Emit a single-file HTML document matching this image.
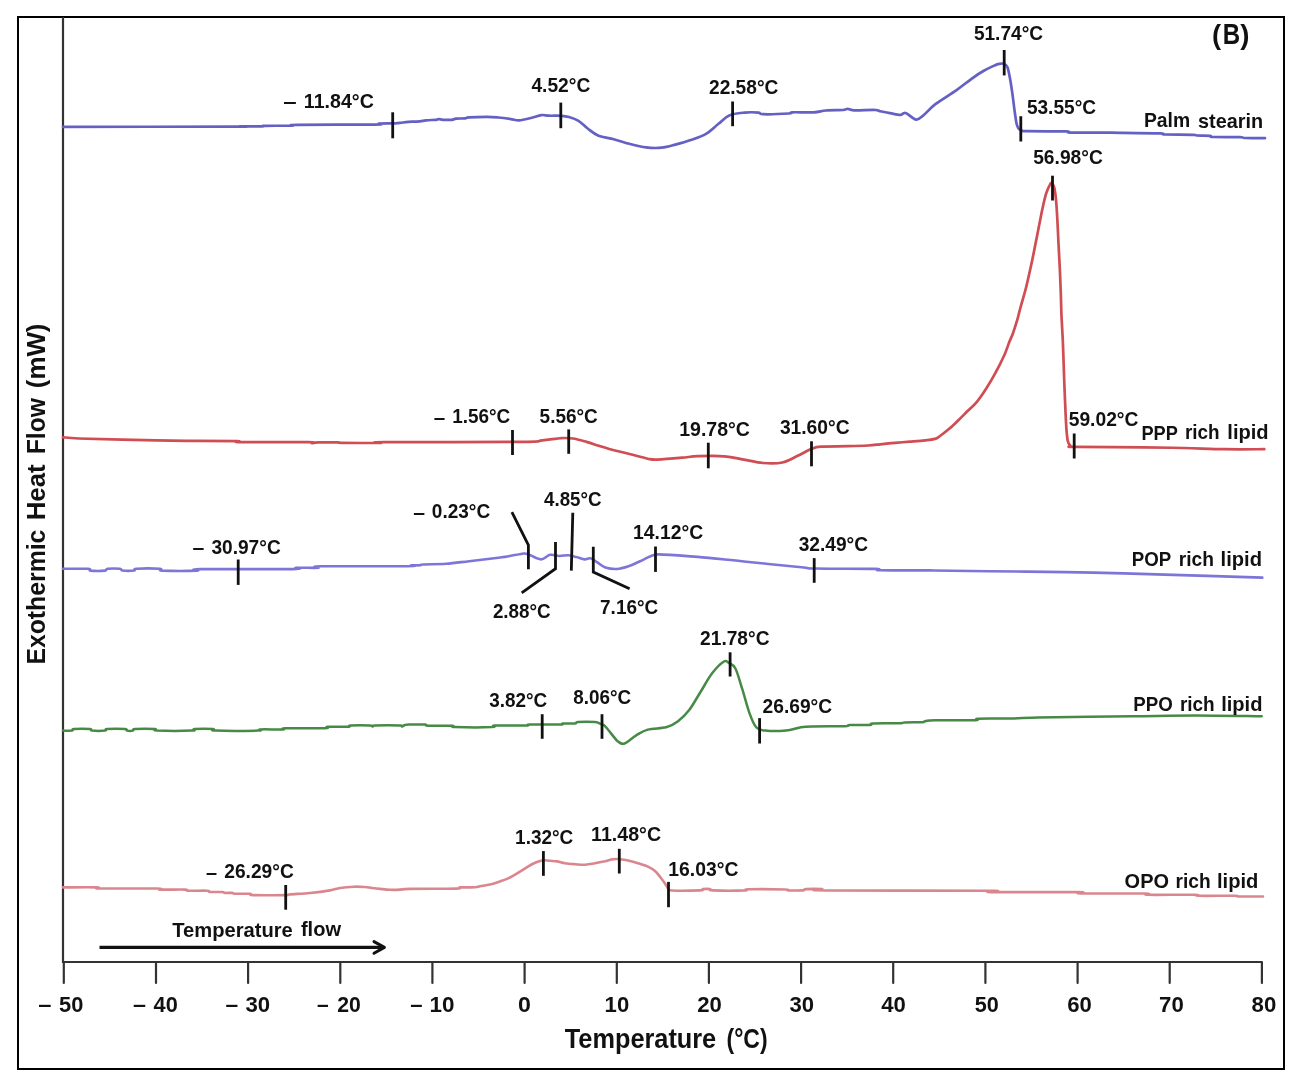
<!DOCTYPE html><html><head><meta charset="utf-8"><style>html,body{margin:0;padding:0;background:#fff;}svg{display:block;will-change:transform;}text{font-family:"Liberation Sans",sans-serif;font-weight:bold;fill:#111;}</style></head><body>
<svg width="1300" height="1085" viewBox="0 0 1300 1085">
<rect x="0" y="0" width="1300" height="1085" fill="#fff"/>
<rect x="18" y="17" width="1266" height="1052" fill="none" stroke="#000" stroke-width="2"/>
<path d="M63 17 L63 962 L1262 962" fill="none" stroke="#333" stroke-width="2.2"/>
<path d="M63.8 962 L63.8 983 M156.0 962 L156.0 983 M248.1 962 L248.1 983 M340.3 962 L340.3 983 M432.4 962 L432.4 983 M524.6 962 L524.6 983 M616.8 962 L616.8 983 M708.9 962 L708.9 983 M801.1 962 L801.1 983 M893.2 962 L893.2 983 M985.4 962 L985.4 983 M1077.6 962 L1077.6 983 M1169.7 962 L1169.7 983 M1261.9 962 L1261.9 983 " stroke="#333" stroke-width="2.2" stroke-linecap="round"/>
<path d="M63.0 126.8 C91.7 126.8 205.5 126.7 235.0 126.6 C264.5 126.5 235.5 126.3 240.0 126.3 C244.5 126.2 257.8 126.4 262.0 126.3 C266.2 126.2 260.0 125.9 265.0 125.8 C270.0 125.7 286.7 125.8 292.0 125.6 C297.3 125.4 283.2 125.0 297.0 124.8 C310.8 124.6 361.3 124.8 375.0 124.6 C388.7 124.4 376.0 123.8 379.0 123.6 C382.0 123.4 389.5 123.5 393.0 123.4 C396.5 123.3 396.8 123.1 400.0 122.8 C403.2 122.5 408.7 121.9 412.0 121.7 C415.3 121.5 417.7 121.6 420.0 121.4 C422.3 121.2 423.3 120.6 426.0 120.3 C428.7 120.0 433.8 120.0 436.0 119.8 C438.2 119.6 437.8 119.1 439.0 119.1 C440.2 119.1 440.8 119.7 443.0 119.8 C445.2 119.9 449.8 120.0 452.0 119.8 C454.2 119.6 453.8 118.8 456.0 118.6 C458.2 118.4 462.8 118.6 465.0 118.4 C467.2 118.2 465.3 117.7 469.0 117.4 C472.7 117.1 482.1 116.8 487.0 116.8 C491.9 116.8 494.5 117.1 498.5 117.5 C502.5 117.9 507.4 118.6 510.8 119.1 C514.2 119.6 515.9 120.6 519.2 120.4 C522.5 120.2 527.1 118.9 530.8 118.0 C534.5 117.1 538.5 115.5 541.5 115.1 C544.5 114.7 545.7 115.6 549.0 115.7 C552.3 115.8 558.2 115.6 561.5 115.8 C564.8 116.0 566.2 116.2 569.0 117.0 C571.8 117.8 575.4 118.9 578.5 120.8 C581.6 122.7 584.4 126.0 587.7 128.5 C591.0 131.0 594.1 133.9 598.5 135.7 C602.9 137.5 608.7 137.8 613.8 139.2 C618.9 140.5 623.8 142.4 629.2 143.8 C634.6 145.2 640.6 146.8 646.0 147.4 C651.4 148.1 656.6 148.2 661.5 147.7 C666.4 147.2 670.5 145.9 675.4 144.6 C680.3 143.3 685.7 141.8 690.8 140.0 C695.9 138.2 701.4 136.5 706.0 133.8 C710.6 131.1 714.6 126.9 718.5 123.8 C722.4 120.7 724.9 117.3 729.2 115.4 C733.6 113.5 739.7 113.1 744.6 112.6 C749.5 112.1 755.4 112.3 758.5 112.6 C761.6 112.9 757.9 114.0 763.0 114.2 C768.1 114.4 784.1 113.8 789.0 113.5 C793.9 113.2 788.2 112.5 792.3 112.3 C796.4 112.1 808.2 112.6 813.8 112.3 C819.4 112.0 821.1 110.9 826.0 110.5 C830.9 110.1 839.4 110.3 843.0 110.0 C846.6 109.7 845.9 108.8 847.7 108.8 C849.5 108.8 849.2 110.1 853.8 110.3 C858.4 110.5 871.0 109.8 875.4 110.0 C879.8 110.2 877.6 110.7 880.0 111.2 C882.4 111.7 886.7 112.5 890.0 113.1 C893.3 113.7 897.8 114.9 900.0 114.9 C902.2 115.0 902.4 113.7 903.5 113.4 C904.6 113.2 904.4 112.4 906.5 113.4 C908.6 114.4 913.3 119.3 916.2 119.6 C919.1 119.9 920.6 117.6 923.8 115.0 C927.0 112.4 930.0 108.3 935.4 104.2 C940.8 100.1 950.2 94.6 956.2 90.4 C962.2 86.2 966.9 82.1 971.5 78.8 C976.1 75.5 979.9 73.0 983.8 70.8 C987.6 68.6 992.0 66.6 994.6 65.4 C997.2 64.2 997.6 64.1 999.2 63.8 C1000.8 63.5 1002.6 63.2 1004.0 63.8 C1005.4 64.4 1006.6 65.4 1007.5 67.4 C1008.4 69.4 1008.8 72.2 1009.5 75.7 C1010.2 79.2 1011.0 84.1 1011.6 88.2 C1012.2 92.3 1012.8 96.5 1013.3 100.6 C1013.8 104.7 1014.3 109.1 1014.9 113.0 C1015.5 116.9 1016.0 121.2 1016.6 123.8 C1017.2 126.4 1017.9 127.7 1018.7 128.8 C1019.5 129.9 1020.3 129.9 1021.6 130.3 C1022.9 130.7 1019.1 131.0 1026.5 131.2 C1033.9 131.4 1058.8 131.2 1066.0 131.4 C1073.2 131.6 1064.3 132.4 1070.0 132.6 C1075.7 132.8 1091.7 132.6 1100.0 132.6 C1108.3 132.6 1110.0 132.7 1120.0 132.8 C1130.0 132.9 1152.5 133.1 1160.0 133.4 C1167.5 133.7 1159.5 134.3 1165.0 134.5 C1170.5 134.7 1187.7 134.6 1193.0 134.8 C1198.3 135.0 1194.2 135.3 1197.0 135.5 C1199.8 135.7 1207.3 135.6 1210.0 135.8 C1212.7 136.1 1208.0 136.8 1213.0 137.0 C1218.0 137.2 1234.7 137.0 1240.0 137.2 C1245.3 137.4 1240.8 137.8 1245.0 138.0 C1249.2 138.2 1261.7 138.2 1265.0 138.2" fill="none" stroke="#6460c4" stroke-width="2.7" stroke-linejoin="round" stroke-linecap="round"/>
<path d="M63.0 437.3 C65.6 437.5 68.7 438.1 78.5 438.5 C88.3 438.9 103.9 439.3 122.0 439.7 C140.1 440.1 167.8 440.6 187.0 440.8 C206.2 441.1 228.2 441.0 237.0 441.2 C245.8 441.4 228.2 442.0 240.0 442.2 C251.8 442.4 296.0 442.0 308.0 442.2 C320.0 442.4 310.3 443.1 312.0 443.1 C313.7 443.1 313.7 442.5 318.0 442.4 C322.3 442.3 334.0 442.3 338.0 442.4 C342.0 442.5 335.0 442.8 342.0 442.9 C349.0 443.0 373.0 443.0 380.0 442.9 C387.0 442.8 360.7 442.3 384.0 442.1 C407.3 441.9 493.6 442.2 520.0 441.9 C546.4 441.6 535.4 441.0 542.3 440.4 C549.2 439.8 556.4 438.4 561.5 438.1 C566.6 437.8 568.8 437.9 573.0 438.5 C577.2 439.1 582.3 440.7 586.5 441.9 C590.7 443.1 594.2 444.3 598.0 445.5 C601.8 446.7 604.1 447.6 609.2 449.0 C614.3 450.4 622.1 452.2 628.5 453.8 C634.9 455.4 642.9 457.7 647.7 458.7 C652.5 459.7 651.5 459.8 657.3 459.6 C663.1 459.4 675.6 458.3 682.3 457.7 C689.0 457.1 690.7 456.4 697.7 456.2 C704.8 456.0 716.9 455.7 724.6 456.3 C732.3 456.9 737.4 458.5 743.8 459.6 C750.2 460.7 756.6 462.5 763.0 463.0 C769.4 463.5 776.5 463.7 782.3 462.5 C788.1 461.3 792.9 458.1 797.7 455.8 C802.5 453.6 807.4 450.5 811.2 449.0 C815.1 447.5 814.7 447.1 820.8 446.6 C826.9 446.1 840.1 446.4 848.0 446.2 C855.9 446.0 862.7 445.8 868.0 445.5 C873.3 445.2 875.5 444.8 880.0 444.3 C884.5 443.9 890.0 443.2 895.0 442.8 C900.0 442.4 905.0 442.1 910.0 441.7 C915.0 441.3 920.8 440.9 925.0 440.4 C929.2 439.9 932.5 439.6 935.0 438.9 C937.5 438.2 937.6 437.7 940.0 436.0 C942.4 434.3 946.1 431.4 949.2 428.8 C952.3 426.2 955.3 423.2 958.4 420.2 C961.5 417.2 964.5 414.1 967.6 411.0 C970.7 407.9 973.8 405.5 976.9 401.8 C980.0 398.1 983.0 393.6 986.1 388.8 C989.2 384.0 992.2 378.9 995.3 373.2 C998.4 367.5 1002.2 359.8 1004.5 354.7 C1006.8 349.6 1007.7 346.1 1009.1 342.5 C1010.5 338.9 1011.7 336.9 1013.0 333.2 C1014.3 329.5 1015.9 324.4 1017.1 320.4 C1018.3 316.4 1018.5 315.0 1020.0 309.4 C1021.5 303.8 1024.2 294.9 1026.2 287.0 C1028.2 279.1 1030.0 270.4 1031.8 262.1 C1033.6 253.8 1035.1 245.5 1036.8 237.2 C1038.5 228.9 1040.2 219.6 1041.7 212.3 C1043.2 205.1 1044.8 198.2 1046.1 193.7 C1047.4 189.1 1048.9 186.8 1049.8 185.0 C1050.7 183.2 1051.0 182.7 1051.7 183.1 C1052.4 183.5 1053.5 184.6 1054.2 187.4 C1054.9 190.2 1055.5 194.7 1056.0 199.9 C1056.5 205.1 1056.9 211.3 1057.3 218.6 C1057.7 225.9 1058.1 235.2 1058.5 243.5 C1058.9 251.8 1059.4 260.0 1059.8 268.3 C1060.2 276.6 1060.5 285.6 1060.8 293.2 C1061.1 300.8 1061.1 305.7 1061.4 314.0 C1061.8 322.3 1062.5 333.3 1062.9 342.9 C1063.3 352.5 1063.6 361.9 1063.9 371.4 C1064.2 380.9 1064.6 390.5 1065.0 400.0 C1065.4 409.5 1065.9 421.7 1066.4 428.6 C1066.9 435.5 1067.2 438.5 1067.9 441.4 C1068.6 444.3 1069.5 445.1 1070.7 446.0 C1071.9 446.9 1062.9 446.7 1075.0 446.9 C1087.1 447.1 1125.2 447.1 1143.4 447.3 C1161.6 447.5 1170.5 447.7 1184.0 448.0 C1197.5 448.3 1211.2 449.0 1224.6 449.2 C1238.0 449.4 1257.7 449.2 1264.3 449.2" fill="none" stroke="#cf4d53" stroke-width="2.7" stroke-linejoin="round" stroke-linecap="round"/>
<path d="M63.0 568.8 C67.2 568.8 83.4 568.5 88.0 568.8 C92.6 569.1 87.7 570.3 90.5 570.6 C93.3 570.9 102.2 570.9 105.0 570.6 C107.8 570.3 105.0 569.1 107.5 568.8 C110.0 568.5 117.5 568.5 120.0 568.8 C122.5 569.1 120.2 570.2 122.5 570.5 C124.8 570.8 131.7 570.8 134.0 570.5 C136.3 570.2 132.2 569.1 136.5 568.8 C140.8 568.5 155.7 568.5 160.0 568.8 C164.3 569.1 156.3 570.3 162.5 570.6 C168.7 570.9 190.8 570.9 197.0 570.6 C203.2 570.4 184.0 569.4 200.0 569.1 C216.0 568.9 277.0 569.3 293.0 569.1 C309.0 568.9 291.8 568.0 296.0 567.8 C300.2 567.6 313.8 568.0 318.0 567.8 C322.2 567.5 306.0 566.6 321.0 566.3 C336.0 566.0 393.0 566.4 408.0 566.2 C423.0 566.1 409.0 565.5 411.0 565.4 C413.0 565.2 418.0 565.4 420.0 565.3 C422.0 565.1 418.6 564.8 423.0 564.5 C427.4 564.2 438.5 564.3 446.2 563.8 C453.9 563.2 461.9 562.0 469.2 561.2 C476.5 560.4 483.6 559.6 490.0 558.8 C496.4 558.0 501.9 557.4 507.3 556.5 C512.7 555.6 518.8 554.1 522.3 553.7 C525.8 553.3 525.0 553.2 528.1 554.2 C531.2 555.2 537.1 559.3 540.8 559.4 C544.4 559.5 546.9 555.4 550.0 554.8 C553.1 554.2 556.1 555.9 559.2 556.0 C562.3 556.1 565.6 555.0 568.5 555.2 C571.4 555.4 573.8 556.4 576.5 557.1 C579.2 557.8 582.3 559.2 584.6 559.4 C586.9 559.6 588.3 557.8 590.4 558.3 C592.5 558.8 594.8 560.8 597.3 562.3 C599.8 563.8 602.1 566.4 605.4 567.5 C608.7 568.6 613.0 569.2 616.9 569.0 C620.8 568.8 624.6 567.6 628.5 566.3 C632.4 565.0 635.8 563.1 640.0 561.2 C644.2 559.3 650.0 556.2 653.8 555.1 C657.6 554.0 655.7 554.3 663.0 554.6 C670.3 554.9 684.2 555.8 697.7 556.9 C711.2 558.0 726.5 559.8 743.8 561.5 C761.1 563.2 789.6 566.1 801.5 567.3 C813.4 568.5 803.1 568.2 815.4 568.5 C827.7 568.8 864.6 568.6 875.4 568.9 C886.2 569.2 870.9 570.0 880.0 570.3 C889.1 570.5 912.0 570.2 930.0 570.4 C948.0 570.5 965.6 570.9 988.2 571.2 C1010.8 571.5 1043.1 571.7 1065.7 572.1 C1088.3 572.5 1100.4 572.8 1123.9 573.4 C1147.5 574.0 1183.9 575.2 1207.0 575.9 C1230.1 576.6 1253.1 577.3 1262.3 577.6" fill="none" stroke="#7d75d8" stroke-width="2.6" stroke-linejoin="round" stroke-linecap="round"/>
<path d="M63.0 730.6 C64.5 730.6 70.2 730.9 72.0 730.6 C73.8 730.4 71.0 729.4 74.0 729.1 C77.0 728.9 87.0 728.9 90.0 729.1 C93.0 729.4 89.5 730.4 92.0 730.6 C94.5 730.9 102.5 730.9 105.0 730.6 C107.5 730.4 103.7 729.4 107.0 729.1 C110.3 728.9 121.7 728.9 125.0 729.1 C128.3 729.4 125.7 730.4 127.0 730.6 C128.3 730.9 131.7 730.9 133.0 730.6 C134.3 730.4 131.3 729.4 135.0 729.1 C138.7 728.9 151.3 728.9 155.0 729.1 C158.7 729.4 150.8 730.4 157.0 730.6 C163.2 730.9 185.8 730.9 192.0 730.6 C198.2 730.4 191.0 729.4 194.5 729.1 C198.0 728.9 209.5 728.9 213.0 729.1 C216.5 729.4 208.0 730.4 215.5 730.6 C223.0 730.9 250.5 730.8 258.0 730.6 C265.5 730.4 256.3 729.6 260.5 729.4 C264.7 729.2 278.8 729.6 283.0 729.4 C287.2 729.2 278.5 728.4 285.5 728.2 C292.5 728.0 318.0 728.4 325.0 728.2 C332.0 728.0 323.7 727.0 327.5 726.8 C331.3 726.6 344.2 727.0 348.0 726.8 C351.8 726.6 346.8 725.7 350.5 725.5 C354.2 725.3 366.3 725.3 370.0 725.5 C373.7 725.7 371.7 726.6 372.5 726.6 C373.3 726.6 370.4 725.7 375.0 725.5 C379.6 725.3 395.5 725.3 400.0 725.5 C404.5 725.7 401.2 726.6 402.0 726.5 C402.8 726.4 403.8 725.3 405.0 725.0 C406.2 724.7 405.7 724.7 409.0 724.6 C412.3 724.5 421.8 724.4 425.0 724.6 C428.2 724.8 423.5 725.5 428.0 725.7 C432.5 725.9 447.5 725.5 452.0 725.7 C456.5 725.9 448.3 726.9 455.0 727.1 C461.7 727.3 485.3 727.4 492.0 727.1 C498.7 726.8 489.3 725.8 495.0 725.5 C500.7 725.2 520.2 725.7 526.0 725.5 C531.8 725.3 524.3 724.7 530.0 724.5 C535.7 724.3 554.5 724.7 560.0 724.5 C565.5 724.3 560.5 723.7 563.0 723.5 C565.5 723.3 572.5 723.7 575.0 723.5 C577.5 723.3 574.7 722.3 578.0 722.1 C581.3 721.9 591.3 721.9 595.0 722.1 C598.7 722.4 598.5 723.1 600.0 723.6 C601.5 724.1 602.6 724.1 604.0 725.2 C605.4 726.3 606.2 727.5 608.5 730.2 C610.8 732.9 615.0 739.0 617.7 741.2 C620.4 743.4 621.5 744.5 624.6 743.5 C627.7 742.5 632.4 737.7 636.2 735.4 C640.1 733.1 642.7 731.0 647.7 729.6 C652.7 728.2 661.2 728.6 666.2 727.3 C671.2 725.9 673.9 724.4 677.7 721.5 C681.5 718.6 685.4 715.0 689.2 710.0 C693.1 705.0 696.9 697.6 700.8 691.5 C704.6 685.4 708.4 678.1 712.3 673.1 C716.1 668.1 721.2 663.2 723.9 661.5 C726.6 659.8 726.6 661.5 728.5 662.7 C730.4 663.9 733.1 664.1 735.4 668.5 C737.7 672.9 740.0 681.9 742.3 689.2 C744.6 696.5 746.9 705.9 749.2 712.3 C751.5 718.6 753.5 724.2 756.2 727.3 C758.9 730.3 760.4 730.0 765.4 730.6 C770.4 731.2 780.2 731.1 786.0 730.6 C791.8 730.1 795.7 728.1 800.0 727.4 C804.3 726.7 804.5 726.6 812.0 726.4 C819.5 726.2 838.7 726.4 845.0 726.2 C851.3 726.0 845.8 725.2 850.0 725.0 C854.2 724.8 866.2 725.1 870.0 724.9 C873.8 724.6 868.0 723.8 873.0 723.5 C878.0 723.2 894.7 723.5 900.0 723.3 C905.3 723.1 901.3 722.6 905.0 722.4 C908.7 722.2 918.5 722.4 922.0 722.2 C925.5 722.0 923.8 721.3 926.0 721.0 C928.2 720.7 926.8 720.4 935.0 720.3 C943.2 720.2 967.8 720.5 975.0 720.2 C982.2 719.9 972.2 719.0 978.0 718.7 C983.8 718.4 1000.0 718.7 1010.0 718.5 C1020.0 718.3 1017.3 717.8 1037.7 717.4 C1058.1 717.0 1106.1 716.6 1132.4 716.3 C1158.7 716.0 1174.0 715.6 1195.5 715.6 C1217.0 715.6 1250.7 716.2 1261.7 716.3" fill="none" stroke="#468a46" stroke-width="2.5" stroke-linejoin="round" stroke-linecap="round"/>
<path d="M63.0 887.4 C68.7 887.4 90.8 887.2 97.0 887.4 C103.2 887.6 90.0 888.3 100.0 888.5 C110.0 888.7 147.0 888.3 157.0 888.5 C167.0 888.7 155.3 889.4 160.0 889.6 C164.7 889.8 180.3 889.4 185.0 889.6 C189.7 889.8 184.3 890.5 188.0 890.7 C191.7 890.9 203.3 890.5 207.0 890.7 C210.7 890.9 207.5 891.8 210.0 892.0 C212.5 892.2 219.5 891.9 222.0 892.0 C224.5 892.1 223.3 892.8 225.0 892.9 C226.7 893.0 230.3 892.8 232.0 892.9 C233.7 893.0 232.0 893.6 235.0 893.8 C238.0 893.9 247.0 893.6 250.0 893.8 C253.0 894.0 247.2 894.9 253.0 895.1 C258.8 895.3 278.8 895.2 285.0 895.1 C291.2 895.0 285.8 894.8 290.0 894.4 C294.2 894.0 303.3 893.7 310.0 893.0 C316.7 892.3 325.0 891.2 330.0 890.4 C335.0 889.6 336.0 888.6 340.0 888.0 C344.0 887.4 349.8 886.9 354.0 886.7 C358.2 886.5 362.0 886.8 365.0 887.0 C368.0 887.2 369.5 887.7 372.0 888.0 C374.5 888.3 377.0 888.6 380.0 888.9 C383.0 889.2 386.7 889.7 390.0 889.8 C393.3 889.9 396.7 889.8 400.0 889.6 C403.3 889.5 400.7 889.1 410.0 888.9 C419.3 888.7 447.7 888.9 456.0 888.6 C464.3 888.4 456.8 887.6 460.0 887.4 C463.2 887.2 471.7 887.5 475.0 887.3 C478.3 887.1 477.5 886.8 480.0 886.3 C482.5 885.8 486.7 885.3 490.0 884.5 C493.3 883.7 497.2 882.3 500.0 881.4 C502.8 880.5 504.5 880.0 507.0 878.9 C509.5 877.8 512.5 876.0 515.0 874.6 C517.5 873.2 519.8 871.6 522.0 870.3 C524.2 869.0 526.2 867.7 528.0 866.6 C529.8 865.5 531.0 864.7 533.0 863.8 C535.0 862.9 538.2 861.7 540.0 861.1 C541.8 860.5 542.3 860.2 544.0 860.2 C545.7 860.2 547.8 860.6 550.0 860.8 C552.2 861.0 554.5 861.0 557.0 861.4 C559.5 861.8 562.0 862.8 565.0 863.3 C568.0 863.8 571.7 864.0 575.0 864.2 C578.3 864.4 581.7 864.9 585.0 864.7 C588.3 864.6 591.7 863.9 595.0 863.3 C598.3 862.7 602.2 861.9 605.0 861.3 C607.8 860.6 609.5 859.8 612.0 859.4 C614.5 859.0 617.3 859.0 620.0 859.2 C622.7 859.4 624.7 859.6 628.0 860.4 C631.3 861.2 636.7 862.8 640.0 863.8 C643.3 864.8 645.5 865.4 648.0 866.6 C650.5 867.8 653.0 869.3 655.0 871.0 C657.0 872.7 658.3 874.6 660.0 876.7 C661.7 878.8 663.7 881.6 665.0 883.5 C666.3 885.4 666.8 887.1 668.0 888.3 C669.2 889.5 666.7 890.1 672.0 890.5 C677.3 890.9 694.8 890.6 700.0 890.4 C705.2 890.2 701.3 889.3 703.0 889.1 C704.7 888.9 708.3 888.9 710.0 889.1 C711.7 889.3 707.2 890.2 713.0 890.4 C718.8 890.6 739.2 890.6 745.0 890.4 C750.8 890.2 741.3 889.4 748.0 889.3 C754.7 889.1 778.3 889.3 785.0 889.5 C791.7 889.7 785.0 890.2 788.0 890.4 C791.0 890.5 800.0 890.6 803.0 890.4 C806.0 890.2 802.8 889.3 806.0 889.1 C809.2 888.9 818.7 888.9 822.0 889.1 C825.3 889.3 798.3 890.2 826.0 890.5 C853.7 890.8 960.5 890.4 988.0 890.7 C1015.5 891.0 976.0 891.9 991.0 892.1 C1006.0 892.3 1063.0 891.9 1078.0 892.1 C1093.0 892.3 1069.8 893.2 1081.0 893.4 C1092.2 893.6 1133.8 893.3 1145.0 893.5 C1156.2 893.7 1139.7 894.6 1148.0 894.8 C1156.3 895.0 1186.7 894.6 1195.0 894.8 C1203.3 895.0 1191.3 895.6 1198.0 895.8 C1204.7 896.0 1228.3 895.7 1235.0 895.8 C1241.7 895.9 1233.3 896.3 1238.0 896.4 C1242.7 896.5 1258.8 896.5 1263.0 896.5" fill="none" stroke="#da868e" stroke-width="2.6" stroke-linejoin="round" stroke-linecap="round"/>
<path d="M392.7 112.3 L392.7 138.3" fill="none" stroke="#111" stroke-width="2.8"/>
<path d="M560.8 102.6 L560.8 128.2" fill="none" stroke="#111" stroke-width="2.8"/>
<path d="M732.6 101.5 L732.6 126.2" fill="none" stroke="#111" stroke-width="2.8"/>
<path d="M1004.2 50.0 L1004.2 75.4" fill="none" stroke="#111" stroke-width="2.8"/>
<path d="M1020.8 116.2 L1020.8 141.5" fill="none" stroke="#111" stroke-width="2.8"/>
<path d="M512.5 430.0 L512.5 455.0" fill="none" stroke="#111" stroke-width="2.8"/>
<path d="M568.7 429.4 L568.7 453.8" fill="none" stroke="#111" stroke-width="2.8"/>
<path d="M708.3 442.7 L708.3 468.3" fill="none" stroke="#111" stroke-width="2.8"/>
<path d="M811.5 441.3 L811.5 466.3" fill="none" stroke="#111" stroke-width="2.8"/>
<path d="M1052.5 175.7 L1052.5 200.5" fill="none" stroke="#111" stroke-width="2.8"/>
<path d="M1074.2 433.5 L1074.2 458.5" fill="none" stroke="#111" stroke-width="2.8"/>
<path d="M238.2 559.5 L238.2 584.9" fill="none" stroke="#111" stroke-width="2.8"/>
<path d="M511.9 512.1 L528.4 545.0 L528.4 569.2" fill="none" stroke="#111" stroke-width="2.8"/>
<path d="M555.5 542.1 L555.5 568.7 L521.7 592.9" fill="none" stroke="#111" stroke-width="2.8"/>
<path d="M572.8 512.7 L571.3 570.6" fill="none" stroke="#111" stroke-width="2.8"/>
<path d="M593.3 546.7 L593.3 572.1 L629.6 588.8" fill="none" stroke="#111" stroke-width="2.8"/>
<path d="M655.5 546.5 L655.5 571.9" fill="none" stroke="#111" stroke-width="2.8"/>
<path d="M814.2 558.1 L814.2 582.8" fill="none" stroke="#111" stroke-width="2.8"/>
<path d="M542.2 714.2 L542.2 738.8" fill="none" stroke="#111" stroke-width="2.8"/>
<path d="M602.0 714.2 L602.0 738.8" fill="none" stroke="#111" stroke-width="2.8"/>
<path d="M730.1 652.3 L730.1 676.5" fill="none" stroke="#111" stroke-width="2.8"/>
<path d="M759.6 718.1 L759.6 743.5" fill="none" stroke="#111" stroke-width="2.8"/>
<path d="M285.7 885.0 L285.7 909.7" fill="none" stroke="#111" stroke-width="2.8"/>
<path d="M543.4 851.1 L543.4 875.8" fill="none" stroke="#111" stroke-width="2.8"/>
<path d="M619.3 848.8 L619.3 873.5" fill="none" stroke="#111" stroke-width="2.8"/>
<path d="M668.5 881.9 L668.5 907.2" fill="none" stroke="#111" stroke-width="2.8"/>
<text x="283.2" y="108.1" font-size="21.0" textLength="13.4" lengthAdjust="spacingAndGlyphs">–</text>
<text x="303.8" y="107.5" font-size="21.0" textLength="70.1" lengthAdjust="spacingAndGlyphs">11.84°C</text>
<text x="531.4" y="91.5" font-size="21.0" textLength="58.9" lengthAdjust="spacingAndGlyphs">4.52°C</text>
<text x="709.0" y="93.5" font-size="21.0" textLength="69.4" lengthAdjust="spacingAndGlyphs">22.58°C</text>
<text x="973.9" y="39.9" font-size="21.0" textLength="69.2" lengthAdjust="spacingAndGlyphs">51.74°C</text>
<text x="1026.9" y="113.7" font-size="21.0" textLength="69.2" lengthAdjust="spacingAndGlyphs">53.55°C</text>
<text x="1143.9" y="127.4" font-size="21.0" textLength="46.2" lengthAdjust="spacingAndGlyphs">Palm</text>
<text x="1198.1" y="128.2" font-size="21.0" textLength="65.0" lengthAdjust="spacingAndGlyphs">stearin</text>
<text x="433.7" y="423.5" font-size="21.0" textLength="11.5" lengthAdjust="spacingAndGlyphs">–</text>
<text x="452.2" y="422.6" font-size="21.0" textLength="58.1" lengthAdjust="spacingAndGlyphs">1.56°C</text>
<text x="539.6" y="422.7" font-size="21.0" textLength="58.2" lengthAdjust="spacingAndGlyphs">5.56°C</text>
<text x="679.2" y="436.2" font-size="21.0" textLength="70.8" lengthAdjust="spacingAndGlyphs">19.78°C</text>
<text x="779.9" y="433.5" font-size="21.0" textLength="69.7" lengthAdjust="spacingAndGlyphs">31.60°C</text>
<text x="1033.2" y="163.6" font-size="21.0" textLength="69.6" lengthAdjust="spacingAndGlyphs">56.98°C</text>
<text x="1068.7" y="425.7" font-size="21.0" textLength="69.8" lengthAdjust="spacingAndGlyphs">59.02°C</text>
<text x="1141.4" y="440.2" font-size="21.0" textLength="36.4" lengthAdjust="spacingAndGlyphs">PPP</text>
<text x="1184.9" y="439.3" font-size="21.0" textLength="34.6" lengthAdjust="spacingAndGlyphs">rich</text>
<text x="1227.3" y="439.3" font-size="21.0" textLength="41.3" lengthAdjust="spacingAndGlyphs">lipid</text>
<text x="192.5" y="553.8" font-size="21.0" textLength="11.8" lengthAdjust="spacingAndGlyphs">–</text>
<text x="211.4" y="553.6" font-size="21.0" textLength="69.3" lengthAdjust="spacingAndGlyphs">30.97°C</text>
<text x="413.3" y="519.0" font-size="21.0" textLength="11.8" lengthAdjust="spacingAndGlyphs">–</text>
<text x="431.8" y="518.4" font-size="21.0" textLength="58.4" lengthAdjust="spacingAndGlyphs">0.23°C</text>
<text x="544.0" y="505.6" font-size="21.0" textLength="57.5" lengthAdjust="spacingAndGlyphs">4.85°C</text>
<text x="633.0" y="538.7" font-size="21.0" textLength="70.1" lengthAdjust="spacingAndGlyphs">14.12°C</text>
<text x="492.9" y="617.5" font-size="21.0" textLength="57.8" lengthAdjust="spacingAndGlyphs">2.88°C</text>
<text x="600.1" y="613.6" font-size="21.0" textLength="58.1" lengthAdjust="spacingAndGlyphs">7.16°C</text>
<text x="798.7" y="550.7" font-size="21.0" textLength="69.4" lengthAdjust="spacingAndGlyphs">32.49°C</text>
<text x="1131.7" y="566.0" font-size="21.0" textLength="39.5" lengthAdjust="spacingAndGlyphs">POP</text>
<text x="1178.8" y="566.2" font-size="21.0" textLength="35.2" lengthAdjust="spacingAndGlyphs">rich</text>
<text x="1220.6" y="566.2" font-size="21.0" textLength="41.4" lengthAdjust="spacingAndGlyphs">lipid</text>
<text x="489.2" y="706.6" font-size="21.0" textLength="58.0" lengthAdjust="spacingAndGlyphs">3.82°C</text>
<text x="573.3" y="703.7" font-size="21.0" textLength="57.8" lengthAdjust="spacingAndGlyphs">8.06°C</text>
<text x="700.1" y="644.7" font-size="21.0" textLength="69.4" lengthAdjust="spacingAndGlyphs">21.78°C</text>
<text x="762.6" y="712.7" font-size="21.0" textLength="69.5" lengthAdjust="spacingAndGlyphs">26.69°C</text>
<text x="1133.3" y="710.9" font-size="21.0" textLength="39.5" lengthAdjust="spacingAndGlyphs">PPO</text>
<text x="1179.9" y="710.7" font-size="21.0" textLength="34.8" lengthAdjust="spacingAndGlyphs">rich</text>
<text x="1221.2" y="710.7" font-size="21.0" textLength="41.3" lengthAdjust="spacingAndGlyphs">lipid</text>
<text x="206.0" y="878.5" font-size="21.0" textLength="11.1" lengthAdjust="spacingAndGlyphs">–</text>
<text x="224.3" y="877.6" font-size="21.0" textLength="69.5" lengthAdjust="spacingAndGlyphs">26.29°C</text>
<text x="515.1" y="844.2" font-size="21.0" textLength="58.2" lengthAdjust="spacingAndGlyphs">1.32°C</text>
<text x="591.1" y="841.4" font-size="21.0" textLength="70.0" lengthAdjust="spacingAndGlyphs">11.48°C</text>
<text x="668.3" y="875.7" font-size="21.0" textLength="70.1" lengthAdjust="spacingAndGlyphs">16.03°C</text>
<text x="1124.6" y="887.6" font-size="21.0" textLength="44.4" lengthAdjust="spacingAndGlyphs">OPO</text>
<text x="1175.5" y="888.4" font-size="21.0" textLength="35.1" lengthAdjust="spacingAndGlyphs">rich</text>
<text x="1217.0" y="888.4" font-size="21.0" textLength="41.4" lengthAdjust="spacingAndGlyphs">lipid</text>
<text x="172.2" y="936.6" font-size="21.0" textLength="120.6" lengthAdjust="spacingAndGlyphs">Temperature</text>
<text x="300.9" y="936.3" font-size="21.0" textLength="40.1" lengthAdjust="spacingAndGlyphs">flow</text>
<text x="564.8" y="1048.4" font-size="27.0" textLength="151.4" lengthAdjust="spacingAndGlyphs">Temperature</text>
<text x="726.5" y="1047.6" font-size="27.0" textLength="41.1" lengthAdjust="spacingAndGlyphs">(°C)</text>
<text x="1212.1" y="43.5" font-size="28.0" textLength="9.1" lengthAdjust="spacingAndGlyphs">(</text>
<text x="1222.7" y="43.7" font-size="29.0" textLength="17.4" lengthAdjust="spacingAndGlyphs">B</text>
<text x="1240.3" y="43.5" font-size="28.0" textLength="9.2" lengthAdjust="spacingAndGlyphs">)</text>
<text x="38.2" y="1011.5" font-size="22.0" textLength="13.2" lengthAdjust="spacingAndGlyphs">–</text>
<text x="59.1" y="1011.5" font-size="22.0" textLength="24.3" lengthAdjust="spacingAndGlyphs">50</text>
<text x="133.1" y="1011.5" font-size="22.0" textLength="13.0" lengthAdjust="spacingAndGlyphs">–</text>
<text x="153.6" y="1011.5" font-size="22.0" textLength="24.2" lengthAdjust="spacingAndGlyphs">40</text>
<text x="225.6" y="1011.5" font-size="22.0" textLength="12.7" lengthAdjust="spacingAndGlyphs">–</text>
<text x="245.5" y="1011.5" font-size="22.0" textLength="24.7" lengthAdjust="spacingAndGlyphs">30</text>
<text x="316.9" y="1011.5" font-size="22.0" textLength="11.7" lengthAdjust="spacingAndGlyphs">–</text>
<text x="337.2" y="1011.5" font-size="22.0" textLength="23.6" lengthAdjust="spacingAndGlyphs">20</text>
<text x="410.3" y="1011.5" font-size="22.0" textLength="12.3" lengthAdjust="spacingAndGlyphs">–</text>
<text x="429.6" y="1011.5" font-size="22.0" textLength="25.0" lengthAdjust="spacingAndGlyphs">10</text>
<text x="518.1" y="1011.5" font-size="22.0" textLength="12.9" lengthAdjust="spacingAndGlyphs">0</text>
<text x="604.6" y="1011.5" font-size="22.0" textLength="24.6" lengthAdjust="spacingAndGlyphs">10</text>
<text x="697.2" y="1011.5" font-size="22.0" textLength="24.6" lengthAdjust="spacingAndGlyphs">20</text>
<text x="789.4" y="1011.5" font-size="22.0" textLength="24.6" lengthAdjust="spacingAndGlyphs">30</text>
<text x="881.3" y="1011.5" font-size="22.0" textLength="24.6" lengthAdjust="spacingAndGlyphs">40</text>
<text x="974.8" y="1011.5" font-size="22.0" textLength="24.1" lengthAdjust="spacingAndGlyphs">50</text>
<text x="1067.2" y="1011.5" font-size="22.0" textLength="24.6" lengthAdjust="spacingAndGlyphs">60</text>
<text x="1159.1" y="1011.5" font-size="22.0" textLength="24.7" lengthAdjust="spacingAndGlyphs">70</text>
<text x="1251.6" y="1011.5" font-size="22.0" textLength="24.7" lengthAdjust="spacingAndGlyphs">80</text>
<path d="M99.5 947.4 L383 947.4" stroke="#111" stroke-width="3.2"/>
<path d="M374 941.6 L384.4 947.4 L374 953.2" fill="none" stroke="#111" stroke-width="3" stroke-linejoin="round" stroke-linecap="round"/>
<text transform="translate(44.8 664.6) rotate(-90)" font-size="26" textLength="135.0" lengthAdjust="spacingAndGlyphs">Exothermic</text>
<text transform="translate(44.8 520.3) rotate(-90)" font-size="26" textLength="56.0" lengthAdjust="spacingAndGlyphs">Heat</text>
<text transform="translate(44.8 454.3) rotate(-90)" font-size="26" textLength="56.2" lengthAdjust="spacingAndGlyphs">Flow</text>
<text transform="translate(44.8 388.2) rotate(-90)" font-size="26" textLength="64.7" lengthAdjust="spacingAndGlyphs">(mW)</text>
</svg></body></html>
